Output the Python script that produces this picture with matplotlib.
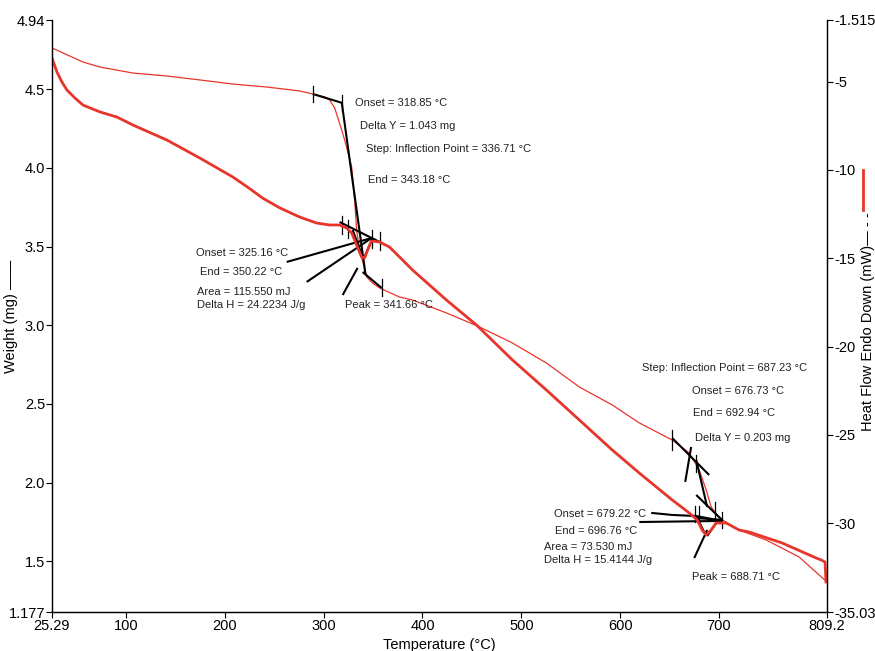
import matplotlib
matplotlib.use("Agg")
import matplotlib.pyplot as plt
from matplotlib.lines import Line2D

plt.rcParams['font.family'] = ['Liberation Sans', 'DejaVu Sans']

# TGA weight curve (thin, left axis)
tga_temp = [25.3, 56.6, 73.8, 107.1, 141.5, 174.8, 208.1, 242.5, 275.8, 289.0,
            301.1, 306.1, 311.2, 314.2, 318.3, 321.3, 325.3, 328.4, 331.4, 333.4,
            336.4, 340.5, 343.5, 349.6, 356.6, 376.8, 390.0, 424.3, 457.7, 491.0,
            525.3, 558.7, 592.0, 619.3, 652.7, 669.8, 679.9, 687.0, 692.0, 700.1,
            720.3, 747.6, 780.9, 809.2]
tga_weight = [4.762, 4.673, 4.641, 4.603, 4.584, 4.559, 4.533, 4.514, 4.489, 4.470,
              4.451, 4.432, 4.381, 4.323, 4.241, 4.177, 4.082, 4.006, 3.796, 3.605,
              3.478, 3.383, 3.307, 3.268, 3.237, 3.179, 3.160, 3.078, 2.989, 2.887,
              2.760, 2.607, 2.493, 2.379, 2.270, 2.188, 2.080, 1.953, 1.845, 1.775,
              1.698, 1.635, 1.527, 1.368]

# DSC heat flow curve (thick, right axis)
dsc_temp = [25.3, 30.3, 35.4, 40.4, 48.5, 56.6, 73.8, 91.0, 107.1, 141.5,
            174.8, 208.1, 225.0, 238.4, 255.6, 275.8, 293.0, 306.1, 316.2, 323.3, 328.4,
            333.4, 338.4, 341.5, 344.5, 348.5, 356.6, 366.7, 376.8, 390.0, 424.3,
            454.6, 491.0, 525.3, 558.7, 592.0, 619.3, 636.5, 652.7, 669.8, 677.9,
            682.9, 687.0, 692.0, 697.1, 707.2, 720.3, 730.4, 763.7, 798.1, 803.1,
            807.2, 808.2]
dsc_flow = [-3.67, -4.46, -5.03, -5.48, -5.93, -6.33, -6.72, -7.01, -7.46, -8.31,
            -9.33, -10.40, -11.05, -11.60, -12.15, -12.67, -13.01, -13.12, -13.12, -13.29, -13.57,
            -14.25, -14.93, -14.99, -14.54, -14.03, -14.08, -14.37, -14.93, -15.67, -17.37,
            -18.78, -20.76, -22.46, -24.16, -25.86, -27.16, -27.95, -28.69, -29.42, -29.82,
            -30.39, -30.67, -30.39, -29.99, -29.99, -30.39, -30.50, -31.12, -31.97, -32.08,
            -32.20, -33.33]

x_ticks = [25.29, 100, 200, 300, 400, 500, 600, 700, 809.2]
x_labels = ['25.29', '100', '200', '300', '400', '500', '600', '700', '809.2']
w_ticks = [1.177, 1.5, 2.0, 2.5, 3.0, 3.5, 4.0, 4.5, 4.94]
w_labels = ['1.177', '1.5', '2.0', '2.5', '3.0', '3.5', '4.0', '4.5', '4.94']
h_ticks = [-35.03, -30, -25, -20, -15, -10, -5, -1.515]
h_labels = ['-35.03', '-30', '-25', '-20', '-15', '-10', '-5', '-1.515']

# analysis construction lines (temperature, weight)
guide_lines = [
    ([289.0, 319.3], [4.470, 4.412]),
    ([318.3, 342.5], [4.419, 3.319]),
    ([339.5, 358.7], [3.338, 3.237]),
    ([316.2, 358.7], [3.656, 3.523]),
    ([262.7, 348.5], [3.402, 3.554]),
    ([282.9, 348.5], [3.275, 3.554]),
    ([319.3, 334.4], [3.192, 3.364]),
    ([329.4, 339.5], [3.605, 3.434]),
    ([349.6, 341.5], [3.554, 3.434]),
    ([652.6, 690.0], [2.283, 2.048]),
    ([665.8, 671.8], [2.004, 2.226]),
    ([676.9, 688.0], [2.143, 1.845]),
    ([676.9, 703.1], [1.921, 1.762]),
    ([674.9, 703.1], [1.775, 1.762]),
    ([631.4, 652.6, 676.9, 703.1], [1.807, 1.794, 1.787, 1.756]),
    ([619.3, 703.1], [1.749, 1.756]),
    ([674.9, 688.0], [1.520, 1.698]),
    ([677.9, 687.0], [1.775, 1.660]),
    ([697.1, 688.0], [1.743, 1.660]),
]
# short vertical markers: (temperature, weight low, weight high)
markers = [
    (289.0, 4.419, 4.520), (318.3, 4.362, 4.463), (358.7, 3.186, 3.294),
    (318.3, 3.580, 3.694), (324.3, 3.554, 3.669), (348.5, 3.491, 3.605),
    (356.6, 3.478, 3.593), (652.6, 2.207, 2.334), (676.9, 2.067, 2.175),
    (675.9, 1.749, 1.851), (679.9, 1.749, 1.851), (696.1, 1.762, 1.876),
    (703.1, 1.711, 1.813),
]
# labels: (temperature, weight, text)
labels = [
    (331.4, 4.412, 'Onset = 318.85 °C'),
    (336.4, 4.266, 'Delta Y = 1.043 mg'),
    (342.5, 4.120, 'Step: Inflection Point = 336.71 °C'),
    (344.5, 3.923, 'End = 343.18 °C'),
    (170.7, 3.459, 'Onset = 325.16 °C'),
    (174.8, 3.338, 'End = 350.22 °C'),
    (171.8, 3.211, 'Area = 115.550 mJ'),
    (171.8, 3.129, 'Delta H = 24.2234 J/g'),
    (321.3, 3.129, 'Peak = 341.66 °C'),
    (622.3, 2.728, 'Step: Inflection Point = 687.23 °C'),
    (672.8, 2.582, 'Onset = 676.73 °C'),
    (673.8, 2.442, 'End = 692.94 °C'),
    (675.9, 2.283, 'Delta Y = 0.203 mg'),
    (533.4, 1.800, 'Onset = 679.22 °C'),
    (534.4, 1.692, 'End = 696.76 °C'),
    (523.3, 1.590, 'Area = 73.530 mJ'),
    (523.3, 1.508, 'Delta H = 15.4144 J/g'),
    (672.8, 1.400, 'Peak = 688.71 °C'),
]

red = '#e8352b'

fig = plt.figure(figsize=(8.75, 6.51), dpi=100)
ax = fig.add_axes([52 / 875, 1 - 612 / 651, 775 / 875, 592 / 651])
ax2 = ax.twinx()

ax.plot(tga_temp, tga_weight, color=red, lw=0.9)
ax2.plot(dsc_temp, dsc_flow, color=red, lw=2.0)

for xs, ys in guide_lines:
    ax.plot(xs, ys, color='black', lw=1.5, solid_capstyle='butt')
for t, lo, hi in markers:
    ax.plot([t, t], [lo, hi], color='black', lw=0.9)
for t, w, s in labels:
    ax.text(t, w, s, fontsize=8, va='center', ha='left', color='#222222')

ax.set_xlim(25.29, 809.2)
ax.set_ylim(1.177, 4.94)
ax2.set_ylim(-35.03, -1.515)

ax.set_xticks(x_ticks)
ax.set_xticklabels(x_labels)
ax.set_yticks(w_ticks)
ax.set_yticklabels(w_labels)
ax2.set_yticks(h_ticks)
ax2.set_yticklabels(h_labels)

for a in (ax, ax2):
    a.spines['top'].set_visible(False)
    for sp in a.spines.values():
        sp.set_linewidth(0.9)
    a.tick_params(labelsize=10.5, length=4, width=0.8, direction='out', pad=1)

ax.set_xlabel('Temperature (°C)', fontsize=10.5, labelpad=4)
ax.set_ylabel('Weight (mg) ——', fontsize=10.5)
ax.yaxis.set_label_coords((18 - 52) / 775, 0.5)
ax2.set_ylabel('Heat Flow Endo Down (mW)— - -', fontsize=10.5)
ax2.yaxis.set_label_coords((861 - 52) / 775, (612 - 322) / 592)

# red legend stroke beside the right axis label
fig.add_artist(Line2D([863 / 875, 863 / 875], [1 - 210 / 651, 1 - 170 / 651],
                      color=red, lw=2.0))

fig.savefig('out.png', dpi=100)
